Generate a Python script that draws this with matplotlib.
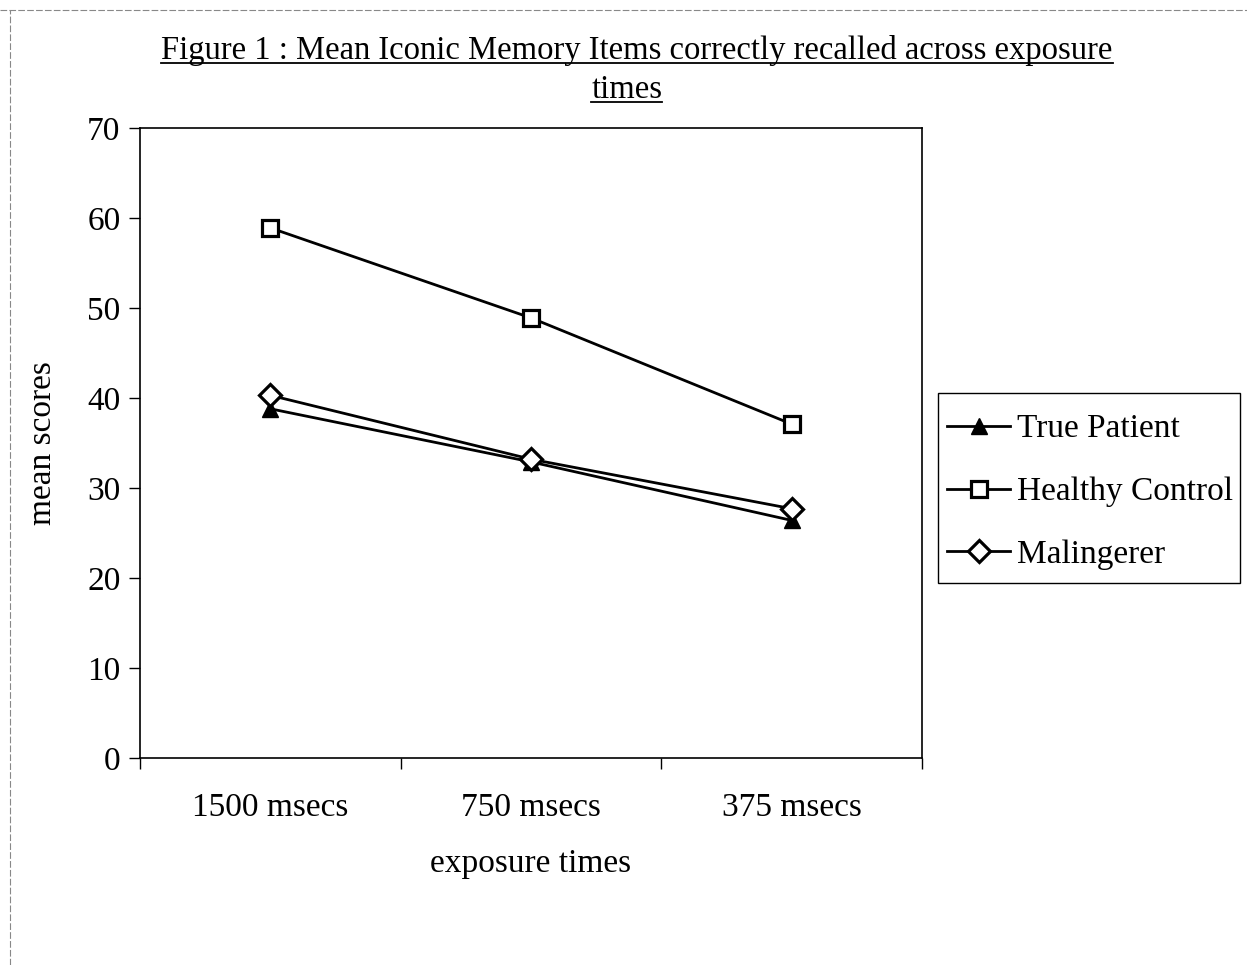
import matplotlib
matplotlib.use("Agg")
import matplotlib.pyplot as plt
from matplotlib.lines import Line2D
from matplotlib.patches import Rectangle

categories = ["1500 msecs", "750 msecs", "375 msecs"]
true_patient = [38.8, 32.9, 26.4]
healthy_control = [58.9, 48.9, 37.1]
malingerer = [40.3, 33.2, 27.7]
y_ticks = [0, 10, 20, 30, 40, 50, 60, 70]

plt.rcParams['font.family'] = ['Liberation Serif', 'DejaVu Serif']

W, H = 1247, 965
fig = plt.figure(figsize=(W / 100, H / 100), dpi=100)
ax = fig.add_axes([140 / W, 1 - 758 / H, (922 - 140) / W, (758 - 128) / H])

x = list(range(len(categories)))
lw = 2.0
ax.plot(x, true_patient, color='black', lw=lw, marker='^', ms=12,
        mfc='black', mec='black', label='True Patient', zorder=3)
ax.plot(x, healthy_control, color='black', lw=lw, marker='s', ms=11,
        mfc='white', mec='black', mew=2.3, label='Healthy Control', zorder=3)
ax.plot(x, malingerer, color='black', lw=lw, marker='D', ms=11,
        mfc='white', mec='black', mew=2.3, label='Malingerer', zorder=4)

ax.set_xlim(-0.5, len(categories) - 0.5)
ax.set_ylim(0, 70)
ax.set_yticks(y_ticks)
ax.set_yticklabels([str(v) for v in y_ticks], fontsize=24)
ax.set_xticks([i - 0.5 for i in range(len(categories) + 1)])
ax.set_xticklabels([])
ax.set_xticks(x, minor=True)
ax.set_xticklabels(categories, minor=True, fontsize=24)
ax.tick_params(axis='x', which='major', direction='out', length=8, width=1)
ax.tick_params(axis='x', which='minor', length=0, pad=25)
ax.tick_params(axis='y', direction='out', length=8, width=1, pad=6)
for s in ax.spines.values():
    s.set_linewidth(1.2)

ax.set_xlabel('exposure times', fontsize=24, labelpad=18)
ax.set_ylabel('mean scores', fontsize=24, labelpad=21)

# legend frame drawn separately to match the original box proportions
fig.add_artist(Rectangle((938 / W, 1 - 583 / H), (1240 - 938) / W, (583 - 393) / H,
                         transform=fig.transFigure, fill=False, edgecolor='black',
                         lw=1.0))
leg = fig.legend(loc='upper left', bbox_to_anchor=(947 / W, 1 - 414 / H),
                 fontsize=24, frameon=False,
                 handlelength=1.9, handletextpad=0.2, labelspacing=0.97,
                 borderpad=0.0, borderaxespad=0)

t1 = fig.text(637 / W, 1 - 50 / H,
              'Figure 1 : Mean Iconic Memory Items correctly recalled across exposure',
              ha='center', va='center', fontsize=23.5)
t2 = fig.text(627 / W, 1 - 90 / H, 'times', ha='center', va='center', fontsize=23.5)

fig.canvas.draw()
r = fig.canvas.get_renderer()
for t in (t1, t2):
    bb = t.get_window_extent(renderer=r)
    yline = bb.y0 + 3
    fig.add_artist(Line2D([bb.x0 / W, bb.x1 / W], [yline / H, yline / H],
                          color='black', lw=1.3, transform=fig.transFigure))

# scan frame
fig.add_artist(Line2D([0, 1], [1 - 10 / H, 1 - 10 / H], color='#888888', lw=0.8,
                      ls=(0, (6, 2)), transform=fig.transFigure))
fig.add_artist(Line2D([10 / W, 10 / W], [0, 1 - 10 / H], color='#888888', lw=0.8,
                      ls=(0, (6, 2)), transform=fig.transFigure))

fig.savefig('out.png', dpi=100)
